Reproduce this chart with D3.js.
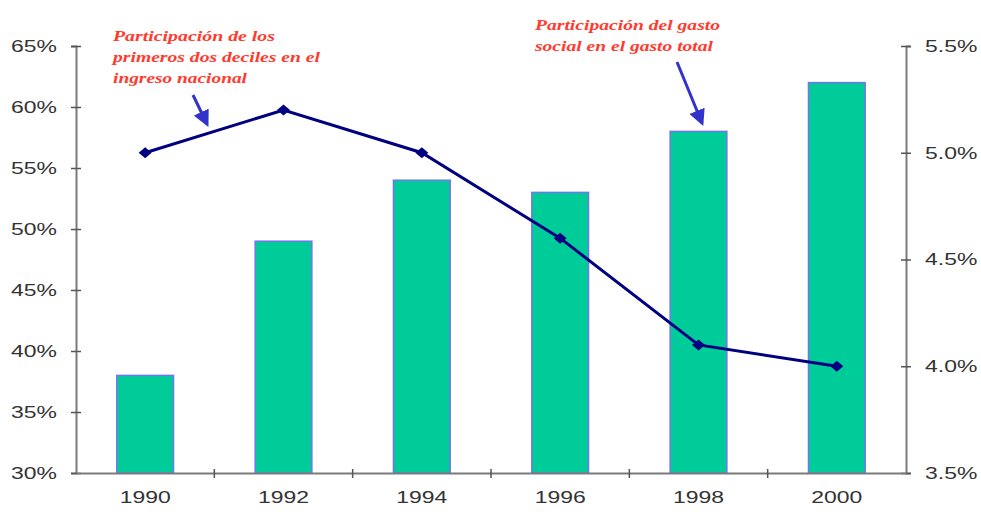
<!DOCTYPE html>
<html lang="es">
<head>
<meta charset="utf-8">
<title>Gasto social</title>
<script src="https://cdn.jsdelivr.net/npm/d3@7"></script>
<style>
  body { margin: 0; background: #fff; }
  .tick text { font-family: "Liberation Sans", Arial, sans-serif; fill: #333; }
  .note { font-family: "Liberation Serif", "DejaVu Serif", serif; font-style: italic; fill: #ff3b2f; }
</style>
</head>
<body>
<script>
// data
var years = ["1990", "1992", "1994", "1996", "1998", "2000"];
var gastoSocial = [0.38, 0.49, 0.54, 0.53, 0.58, 0.62];     // bars, left axis
var deciles = [0.050, 0.052, 0.050, 0.046, 0.041, 0.040];   // line, right axis
var leftTicks = [0.30, 0.35, 0.40, 0.45, 0.50, 0.55, 0.60, 0.65];
var rightTicks = [0.035, 0.040, 0.045, 0.050, 0.055];
var note1 = ["Participación de los", "primeros dos deciles en el", "ingreso nacional"];
var note2 = ["Participación del gasto", "social en el gasto total"];

var w = 981, h = 515;
// plot edges (window.top is read-only, so use other names)
var plotL = 76, plotR = 906, plotT = 46, plotB = 473;
var stretch = 1.35; // the original text looks wider than normal

var svg = d3.select("body").append("svg")
    .attr("width", w)
    .attr("height", h);

var x = d3.scaleBand()
    .domain(years)
    .range([plotL, plotR])
    .paddingInner(0.59)
    .paddingOuter(0.295);

var yL = d3.scaleLinear().domain([0.30, 0.65]).range([plotB, plotT]);
var yR = d3.scaleLinear().domain([0.035, 0.055]).range([plotB, plotT]);

// bars
svg.selectAll("rect.bar")
    .data(gastoSocial)
    .enter()
    .append("rect")
    .attr("class", "bar")
    .attr("x", function(d, i) { return x(years[i]); })
    .attr("y", function(d) { return yL(d); })
    .attr("width", x.bandwidth())
    .attr("height", function(d) { return plotB - yL(d); })
    .attr("fill", "#00cc99")
    .attr("stroke", "#7474f0")
    .attr("stroke-width", 1.5);

// axes
function styleAxis(g) {
    g.select(".domain").attr("stroke", "#7a7a7a").attr("stroke-width", 2);
    g.selectAll(".tick line").attr("stroke", "#555").attr("stroke-width", 1.5);
}

var leftAxis = svg.append("g")
    .attr("transform", "translate(" + plotL + ",0)")
    .call(d3.axisLeft(yL).tickValues(leftTicks).tickFormat(d3.format(".0%")).tickSizeOuter(0).tickSize(5).tickPadding(14))
    .call(styleAxis);
leftAxis.selectAll(".tick line").attr("x1", -5).attr("x2", 5);

var rightAxis = svg.append("g")
    .attr("transform", "translate(" + plotR + ",0)")
    .call(d3.axisRight(yR).tickValues(rightTicks).tickFormat(d3.format(".1%")).tickSizeOuter(0).tickSize(5).tickPadding(14))
    .call(styleAxis);
rightAxis.selectAll(".tick line").attr("x1", -5).attr("x2", 5);

var bottomAxis = svg.append("g")
    .attr("transform", "translate(0," + plotB + ")")
    .call(d3.axisBottom(x).tickSize(0).tickSizeOuter(0).tickPadding(18))
    .call(styleAxis);

// tick marks between the categories
var step = x.step();
svg.selectAll("line.sep")
    .data(years.slice(1))
    .enter()
    .append("line")
    .attr("class", "sep")
    .attr("x1", function(d) { return x(d) - (step - x.bandwidth()) / 2; })
    .attr("x2", function(d) { return x(d) - (step - x.bandwidth()) / 2; })
    .attr("y1", plotB - 4)
    .attr("y2", plotB + 5)
    .attr("stroke", "#555")
    .attr("stroke-width", 1.5);

svg.selectAll(".tick text")
    .attr("font-size", "17px")
    .each(function() {
        var t = d3.select(this);
        t.attr("textLength", this.getComputedTextLength() * stretch)
         .attr("lengthAdjust", "spacingAndGlyphs");
    });

// line on the right axis
var line = d3.line()
    .x(function(d, i) { return x(years[i]) + x.bandwidth() / 2; })
    .y(function(d) { return yR(d); });

svg.append("path")
    .datum(deciles)
    .attr("d", line)
    .attr("fill", "none")
    .attr("stroke", "#000080")
    .attr("stroke-width", 3);

// squat diamond like the original marker
svg.selectAll("path.mark")
    .data(deciles)
    .enter()
    .append("path")
    .attr("class", "mark")
    .attr("d", "M-6.5,0L0,-5.5L6.5,0L0,5.5Z")
    .attr("transform", function(d, i) {
        return "translate(" + (x(years[i]) + x.bandwidth() / 2) + "," + yR(d) + ")";
    })
    .attr("fill", "#000080");

// notes
function note(lines, x0, y0, widths) {
    svg.selectAll(null)
        .data(lines)
        .enter()
        .append("text")
        .attr("class", "note")
        .attr("x", x0)
        .attr("y", function(d, i) { return y0 + i * 21; })
        .attr("font-size", "15.5px")
        .attr("font-weight", "bold")
        .attr("textLength", function(d, i) { return widths[i]; })
        .attr("lengthAdjust", "spacingAndGlyphs")
        .text(function(d) { return d; });
}
note(note1, 113, 41, [162, 207, 134]);
note(note2, 535, 30, [185, 178]);

// arrows
svg.append("defs").append("marker")
    .attr("id", "head")
    .attr("viewBox", "0 0 10 10")
    .attr("refX", 8).attr("refY", 5)
    .attr("markerWidth", 5.5).attr("markerHeight", 5.5)
    .attr("orient", "auto")
    .append("path")
    .attr("d", "M0,0L10,5L0,10z")
    .attr("fill", "#3333cc");

svg.append("line")
    .attr("x1", 193).attr("y1", 95)
    .attr("x2", 207).attr("y2", 124)
    .attr("stroke", "#3333cc").attr("stroke-width", 3)
    .attr("marker-end", "url(#head)");

svg.append("line")
    .attr("x1", 677).attr("y1", 62)
    .attr("x2", 702).attr("y2", 123)
    .attr("stroke", "#3333cc").attr("stroke-width", 3)
    .attr("marker-end", "url(#head)");
</script>
</body>
</html>
